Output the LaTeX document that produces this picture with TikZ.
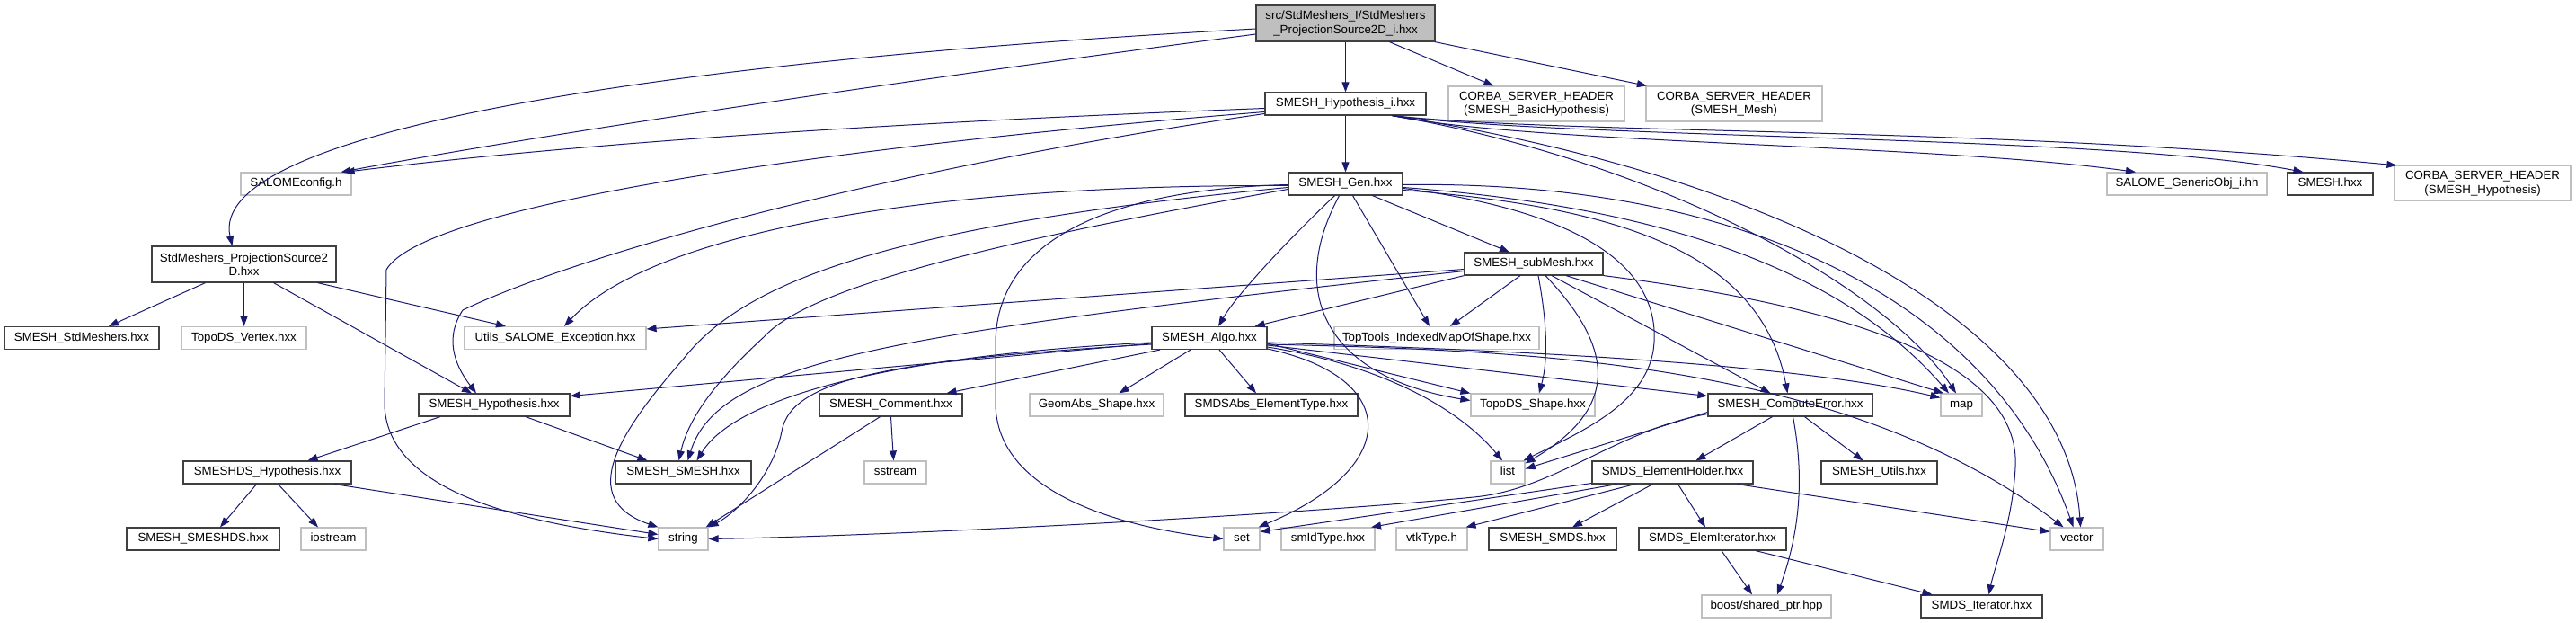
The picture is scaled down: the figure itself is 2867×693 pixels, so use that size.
\documentclass[tikz,border=0pt]{standalone}
\usepackage{fontspec}
\setmainfont{Liberation Sans}
\usetikzlibrary{arrows.meta}
\definecolor{edgec}{RGB}{25,25,112}
\definecolor{boxdark}{RGB}{64,64,64}
\definecolor{boxlight}{RGB}{191,191,191}
\definecolor{rootfill}{RGB}{191,191,191}
\begin{document}
\begin{tikzpicture}[x=1pt,y=-1pt,
  base/.style={rectangle, inner sep=0pt, font=\fontsize{13.3}{15.5}\selectfont, align=center, line width=1.2pt},
  hd/.style={base, draw=boxdark, fill=white, minimum height=25pt, text height=9.7pt, text depth=2.8pt, minimum width=#1},
  ex/.style={base, draw=boxlight, fill=white, minimum height=25pt, text height=9.7pt, text depth=2.8pt, minimum width=#1},
  exd/.style={base, draw=boxlight, fill=white, minimum height=39pt, minimum width=#1},
  hdd/.style={base, draw=boxdark, fill=white, minimum height=40pt, minimum width=#1},
  rootbox/.style={base, draw=boxdark, fill=rootfill, minimum height=40pt, minimum width=#1},
  edge/.style={draw=edgec, line width=1pt, -{Triangle[length=11pt,width=8pt]}}
]
\useasboundingbox (0,0) rectangle (2867,693);

% row 0
\node[rootbox=199pt] (root) at (1497.5,26) {src/StdMeshers\_I/StdMeshers\\\_ProjectionSource2D\_i.hxx};
% row 1
\node[hd=179pt] (hypi) at (1497.5,115.5) {SMESH\_Hypothesis\_i.hxx};
\node[exd=196pt] (cbh) at (1710,115.5) {CORBA\_SERVER\_HEADER\\(SMESH\_BasicHypothesis)};
\node[exd=196pt] (cmh) at (1930,115.5) {CORBA\_SERVER\_HEADER\\(SMESH\_Mesh)};
% row 2
\node[hd=127pt] (gen) at (1497.5,204.5) {SMESH\_Gen.hxx};
\node[ex=123pt] (salc) at (329.5,204.5) {SALOMEconfig.h};
\node[ex=178pt] (genobj) at (2434,204.5) {SALOME\_GenericObj\_i.hh};
\node[hd=95pt] (smeshh) at (2593.5,204.5) {SMESH.hxx};
\node[exd=196pt] (chy) at (2763,204) {CORBA\_SERVER\_HEADER\\(SMESH\_Hypothesis)};
% row 3
\node[hd=154pt] (subm) at (1707,293.5) {SMESH\_subMesh.hxx};
\node[hdd=205pt] (ps2d) at (271.5,294) {StdMeshers\_ProjectionSource2\\D.hxx};
% row 4
\node[hd=172pt] (stdm) at (91,376) {SMESH\_StdMeshers.hxx};
\node[ex=139pt] (tvx) at (271.5,376) {TopoDS\_Vertex.hxx};
\node[ex=202pt] (utils) at (618,376) {Utils\_SALOME\_Exception.hxx};
\node[hd=128pt] (algo) at (1346,376) {SMESH\_Algo.hxx};
\node[ex=228pt] (toptools) at (1599,376) {TopTools\_IndexedMapOfShape.hxx};
% row 5
\node[hd=168pt] (hyp) at (550,450.5) {SMESH\_Hypothesis.hxx};
\node[hd=159pt] (comment) at (991.5,450.5) {SMESH\_Comment.hxx};
\node[ex=149pt] (geomabs) at (1220.5,450.5) {GeomAbs\_Shape.hxx};
\node[hd=192pt] (smdsabs) at (1415,450.5) {SMDSAbs\_ElementType.hxx};
\node[ex=138pt] (topods) at (1706,450.5) {TopoDS\_Shape.hxx};
\node[hd=183pt] (comperr) at (1992.5,450.5) {SMESH\_ComputeError.hxx};
\node[ex=46pt] (map) at (2183,450.5) {map};
% row 6
\node[hd=187pt] (smeshdshyp) at (297.5,525.5) {SMESHDS\_Hypothesis.hxx};
\node[hd=151pt] (ss) at (760.5,525.5) {SMESH\_SMESH.hxx};
\node[ex=69pt] (sstream) at (996.5,525.5) {sstream};
\node[ex=38pt] (list) at (1678,525.5) {list};
\node[hd=179pt] (eholder) at (1861.5,525.5) {SMDS\_ElementHolder.hxx};
\node[hd=129pt] (sutils) at (2091.5,525.5) {SMESH\_Utils.hxx};
% row 7
\node[hd=170pt] (smeshds) at (226,599.5) {SMESH\_SMESHDS.hxx};
\node[ex=72pt] (iostream) at (371,599.5) {iostream};
\node[ex=55pt] (string) at (760.5,599.5) {string};
\node[ex=40pt] (set) at (1382,599.5) {set};
\node[ex=104pt] (smid) at (1478,599.5) {smIdType.hxx};
\node[ex=79pt] (vtk) at (1593.5,599.5) {vtkType.h};
\node[hd=142pt] (smds) at (1728,599.5) {SMESH\_SMDS.hxx};
\node[hd=164pt] (elemit) at (1906,599.5) {SMDS\_ElemIterator.hxx};
\node[ex=59pt] (vector) at (2311.5,599.5) {vector};
% row 8
\node[ex=144pt] (boost) at (1966,674.5) {boost/shared\_ptr.hpp};
\node[hd=135pt] (smdsit) at (2205.5,674.5) {SMDS\_Iterator.hxx};

% ---- edges: root
\draw[edge] (root) -- (hypi);
\draw[edge] (root) -- (cbh);
\draw[edge] (root) -- (cmh);
\draw[edge] ([yshift=-12pt]root.west) .. controls (1000,90) and (600,150) .. ([xshift=-12pt]salc.north east);
\draw[edge] ([yshift=-6pt]root.west) .. controls (700,70) and (230,150) .. ([xshift=-13pt]ps2d.north);
% ---- hypi
\draw[edge] (hypi) -- (gen);
\draw[edge] ([yshift=-5pt]hypi.west) .. controls (900,140) and (600,165) .. ([xshift=-8pt]salc.north east);
\draw[edge] ([yshift=-9pt]hypi.west) .. controls (900,165) and (470,230) .. (430,300) -- (428,450) .. controls (430,540) and (560,580) .. (string.west);
\draw[edge] ([yshift=-11pt]hypi.west) .. controls (1000,185) and (650,280) .. (515,345) .. controls (495,375) and (505,405) .. ([xshift=-20pt]hyp.north);
\draw[edge] ([xshift=52pt]hypi.south) .. controls (1700,160) and (2150,160) .. ([xshift=-57pt]genobj.north);
\draw[edge] ([xshift=52pt]hypi.south) .. controls (1750,155) and (2350,150) .. ([xshift=-30pt]smeshh.north);
\draw[edge] ([xshift=52pt]hypi.south) .. controls (1750,150) and (2200,140) .. ([xshift=3pt]chy.north west);
\draw[edge] ([xshift=52pt]hypi.south) .. controls (1850,180) and (2100,320) .. ([xshift=-6pt]map.north);
\draw[edge] ([xshift=52pt]hypi.south) .. controls (1950,190) and (2300,350) .. ([xshift=4pt]vector.north);
% ---- gen
\draw[edge] ([xshift=30pt]gen.south) -- ([xshift=-27pt]subm.north);
\draw[edge] ([xshift=-12pt]gen.south) .. controls (1430,270) and (1375,330) .. ([xshift=10pt]algo.north);
\draw[edge] ([yshift=-2pt]gen.west) .. controls (1000,205) and (720,265) .. ([xshift=10pt]utils.north);
\draw[edge] ([yshift=-4pt]gen.west) .. controls (1000,250) and (830,310) .. (760,400) .. controls (690,480) and (640,555) .. (string.north west);
\draw[edge] ([yshift=-6pt]gen.west) .. controls (1100,270) and (900,320) .. (850,375) .. controls (790,430) and (765,470) .. ([xshift=-5pt]ss.north);
\draw[edge] ([yshift=-1pt]gen.west) .. controls (1250,210) and (1110,260) .. (1108,380) -- (1108,450) .. controls (1110,560) and (1280,590) .. (set.west);
\draw[edge] ([xshift=8pt]gen.south) -- ([xshift=-8pt]toptools.north);
\draw[edge] ([xshift=-7pt]gen.south) .. controls (1430,330) and (1480,420) .. ([yshift=5pt]topods.west);
\draw[edge] ([yshift=-5pt]gen.east) .. controls (1800,240) and (1850,320) .. (1840,390) .. controls (1830,450) and (1760,480) .. ([xshift=-2pt]list.north east);
\draw[edge] ([yshift=-7pt]gen.east) .. controls (1800,230) and (1960,280) .. ([xshift=-3pt]comperr.north);
\draw[edge] ([yshift=-4pt]gen.east) .. controls (1850,230) and (2050,300) .. ([xshift=-14pt]map.north);
\draw[edge] ([yshift=-1pt]gen.east) .. controls (1950,200) and (2220,340) .. ([xshift=-4pt]vector.north);
% ---- subMesh
\draw[edge] ([yshift=-6pt]subm.west) -- ([yshift=10pt]utils.east);
\draw[edge] ([yshift=-8pt]subm.west) .. controls (1000,370) and (800,400) .. ([xshift=5pt]ss.north);
\draw[edge] (subm.south west) -- ([xshift=-14pt]algo.north east);
\draw[edge] ([xshift=-15pt]subm.south) -- ([xshift=15pt]toptools.north);
\draw[edge] ([xshift=5pt]subm.south) .. controls (1722,360) and (1723,400) .. ([xshift=7pt]topods.north);
\draw[edge] ([xshift=13pt]subm.south) .. controls (1790,380) and (1810,450) .. ([yshift=-3pt]list.north east);
\draw[edge] ([xshift=20pt]subm.south) -- ([xshift=-22pt]comperr.north);
\draw[edge] ([xshift=36pt]subm.south) -- ([xshift=-20pt]map.north);
\draw[edge] (subm.south east) .. controls (2050,340) and (2250,400) .. (2243,520) .. controls (2240,580) and (2220,630) .. ([xshift=8pt]smdsit.north);
% ---- algo
\draw[edge] ([yshift=-6pt]algo.west) -- ([yshift=10pt]hyp.east);
\draw[edge] ([yshift=-5pt]algo.west) .. controls (1000,395) and (820,440) .. ([xshift=15pt]ss.north);
\draw[edge] ([yshift=-7pt]algo.west) .. controls (1000,400) and (880,420) .. (870,480) .. controls (860,530) and (820,570) .. (string.north east);
\draw[edge] ([xshift=-55pt]algo.south) -- ([xshift=62pt]comment.north);
\draw[edge] ([xshift=-21pt]algo.south) -- ([xshift=25pt]geomabs.north);
\draw[edge] ([xshift=11pt]algo.south) -- ([xshift=-17pt]smdsabs.north);
\draw[edge] ([yshift=-6pt]algo.east) -- ([yshift=13pt]topods.west);
\draw[edge] ([yshift=-10pt]algo.east) .. controls (1530,405) and (1620,450) .. ([xshift=-6pt]list.north);
\draw[edge] ([yshift=-8pt]algo.east) -- ([yshift=10pt]comperr.west);
\draw[edge] ([yshift=-5pt]algo.east) .. controls (1700,390) and (2000,405) .. ([yshift=8pt]map.west);
\draw[edge] ([yshift=-7pt]algo.east) .. controls (1700,390) and (2050,400) .. ([xshift=-15pt]vector.north);
\draw[edge] ([yshift=-12pt]algo.east) .. controls (1560,420) and (1560,520) .. ([xshift=-2pt]set.north east);
% ---- hypothesis
\draw[edge] ([xshift=-60pt]hyp.south) -- ([xshift=45pt]smeshdshyp.north);
\draw[edge] ([xshift=35pt]hyp.south) -- ([xshift=-40pt]ss.north);
% ---- SMESHDS_Hypothesis
\draw[edge] ([xshift=-12pt]smeshdshyp.south) -- ([xshift=19pt]smeshds.north);
\draw[edge] ([xshift=12pt]smeshdshyp.south) -- ([xshift=-17pt]iostream.north);
\draw[edge] ([xshift=75pt]smeshdshyp.south) -- ([yshift=5pt]string.west);
% ---- comment
\draw[edge] ([xshift=0pt]comment.south) -- ([xshift=-2pt]sstream.north);
\draw[edge] ([xshift=-12pt]comment.south) -- ([xshift=-3pt]string.north east);
% ---- compute error
\draw[edge] ([xshift=16pt]comperr.south) -- ([xshift=-18pt]sutils.north);
\draw[edge] ([xshift=-20pt]comperr.south) -- ([xshift=26pt]eholder.north);
\draw[edge] ([xshift=3pt]comperr.south) .. controls (2010,540) and (2000,600) .. ([xshift=12pt]boost.north);
\draw[edge] ([yshift=-8pt]comperr.west) -- ([yshift=4pt]list.east);
\draw[edge] ([yshift=-10pt]comperr.west) .. controls (1800,478) and (1730,545) .. (1640,553) .. controls (1450,572) and (1000,596) .. (string.east);
% ---- element holder
\draw[edge] ([yshift=-12pt]eholder.west) -- ([yshift=8pt]set.east);
\draw[edge] ([xshift=-62pt]eholder.south) -- ([xshift=48pt]smid.north);
\draw[edge] ([xshift=-42pt]eholder.south) -- ([xshift=38pt]vtk.north);
\draw[edge] ([xshift=-22pt]eholder.south) -- ([xshift=22pt]smds.north);
\draw[edge] ([xshift=6pt]eholder.south) -- ([xshift=-8pt]elemit.north);
\draw[edge] ([xshift=72pt]eholder.south) -- ([yshift=8pt]vector.west);
% ---- elem iterator
\draw[edge] ([xshift=10pt]elemit.south) -- ([xshift=-16pt]boost.north);
\draw[edge] ([xshift=48pt]elemit.south) -- ([xshift=-55pt]smdsit.north);
% ---- projection source 2D
\draw[edge] ([xshift=-43pt]ps2d.south) -- ([xshift=30pt]stdm.north);
\draw[edge] (ps2d) -- (tvx);
\draw[edge] ([xshift=33pt]ps2d.south) -- ([xshift=-25pt]hyp.north);
\draw[edge] ([xshift=82pt]ps2d.south) -- ([xshift=-55pt]utils.north);
\end{tikzpicture}
\end{document}
